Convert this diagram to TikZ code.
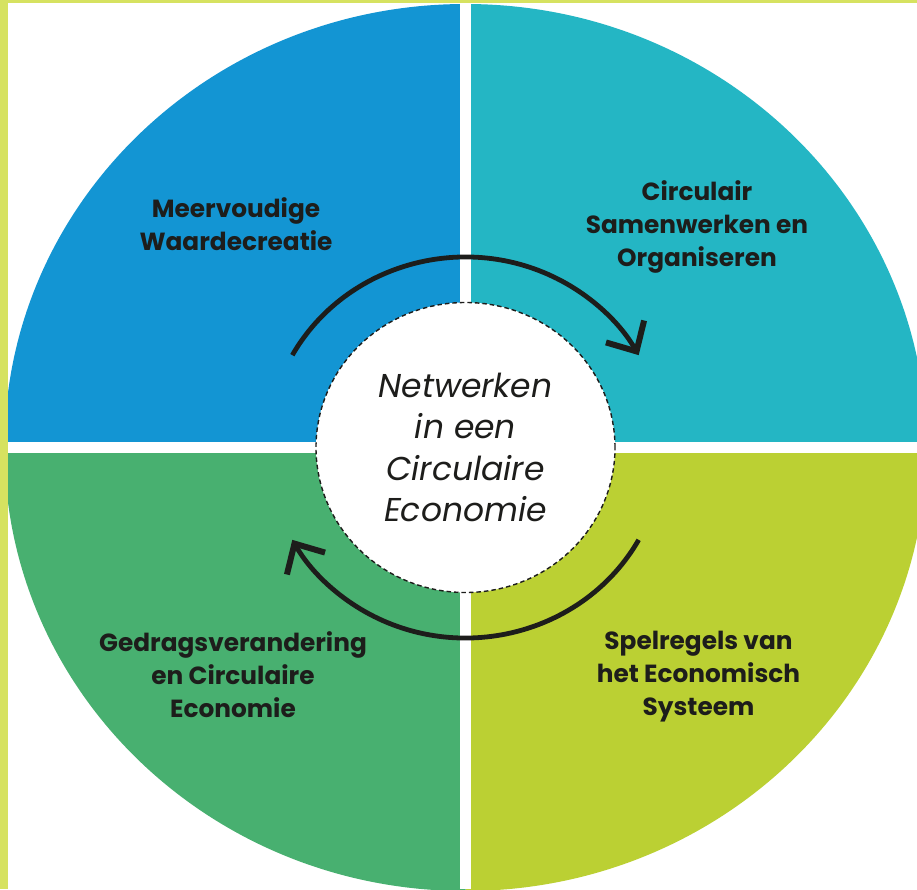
\documentclass[tikz,border=0pt]{standalone}
\usepackage{fontspec}
\setmainfont{Poppins}
\usepackage{tikz}
\usepackage{xcolor}
\usetikzlibrary{arrows.meta,shapes.geometric}
\definecolor{Ink}{HTML}{1D1D1B}
\definecolor{Blue}{HTML}{1395D3}
\definecolor{Teal}{HTML}{24B6C4}
\definecolor{Green}{HTML}{48B070}
\definecolor{Lime}{HTML}{BBD033}
\definecolor{Frame}{HTML}{D6E260}

\begin{document}
\begin{tikzpicture}[x=1pt,y=1pt,
  gap/.style={draw=white,line width=11pt},
  hub/.style={ellipse,draw=Ink,fill=white,line width=1.4pt,dash pattern=on 4.5pt off 3pt,minimum width=299pt,minimum height=290pt,inner sep=0pt,align=center,text=Ink,font=\itshape\fontsize{33}{41.5}\selectfont},
  label/.style={align=center,text=Ink,font=\bfseries\fontsize{24.8}{33}\selectfont},
  roundarrow/.style={draw=Ink,line width=4.8pt,-{Straight Barb[length=23pt,width=44pt,line width=6pt]}}
]
\useasboundingbox (-465.5,-441.5) rectangle (451.5,447.5);
\fill[white] (-465.5,-441.5) rectangle (451.5,447.5);
\fill[Blue] (0,0) -- (180:461pt and 443.5pt) arc[start angle=180,end angle=90,x radius=461pt,y radius=443.5pt] -- cycle;
\fill[Teal] (0,0) -- (90:461pt and 443.5pt) arc[start angle=90,end angle=0,x radius=461pt,y radius=443.5pt] -- cycle;
\fill[Lime] (0,0) -- (0:461pt and 443.5pt) arc[start angle=0,end angle=-90,x radius=461pt,y radius=443.5pt] -- cycle;
\fill[Green] (0,0) -- (-90:461pt and 443.5pt) arc[start angle=-90,end angle=-180,x radius=461pt,y radius=443.5pt] -- cycle;
\draw[gap] (0,447.5) -- (0,-441.5);
\draw[gap] (-465.5,0) -- (451.5,0);
\fill[Frame] (-465.5,-441.5) rectangle (-457.5,447.5);
\fill[Frame] (-465.5,444) rectangle (451.5,447.5);
\node[hub] (hub) at (0,0) {Netwerken\\in een\\Circulaire\\Economie};
\draw[roundarrow] (151:198pt and 190.5pt) arc[start angle=151,end angle=29,x radius=198pt,y radius=190.5pt];
\draw[roundarrow] (-29:198pt and 190.5pt) arc[start angle=-29,end angle=-151,x radius=198pt,y radius=190.5pt];
\node[label] (value) at (-229.5,223.5) {Meervoudige\\Waardecreatie};
\node[label] (cooperation) at (231.5,220.5) {Circulair\\Samenwerken en\\Organiseren};
\node[label] (behaviour) at (-232.5,-227.5) {Gedragsverandering\\en Circulaire\\Economie};
\node[label] (rules) at (233,-229) {Spelregels van\\het Economisch\\Systeem};
\end{tikzpicture}
\end{document}
